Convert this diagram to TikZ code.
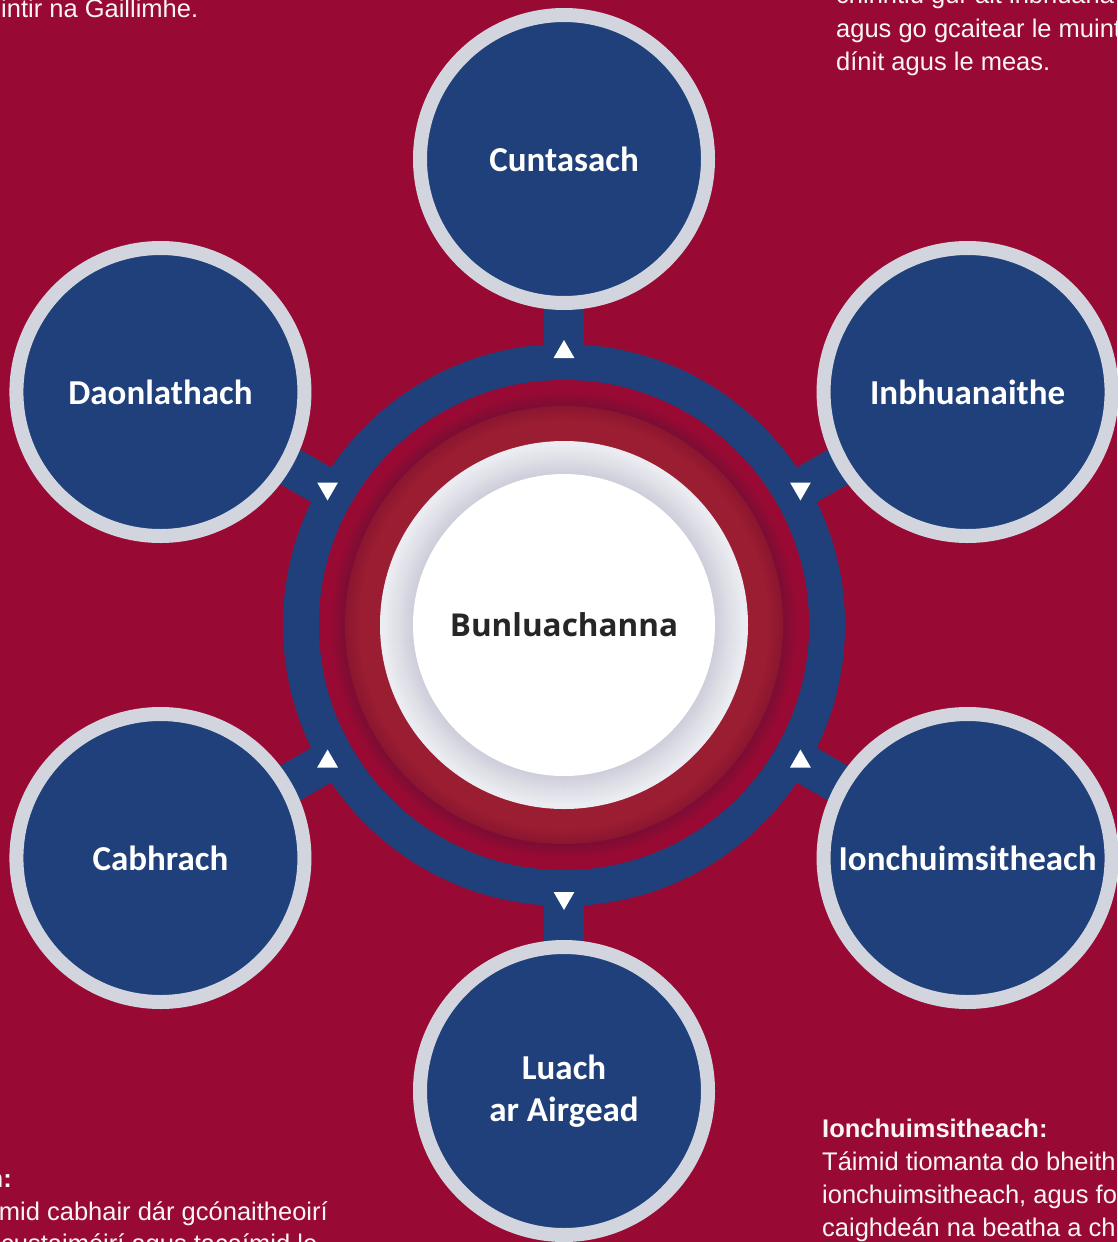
\documentclass[tikz,border=0pt]{standalone}
\usepackage{fontspec}
\setmainfont{Liberation Sans}
\newfontfamily\satfont{Carlito}
\newfontfamily\hubfont{Open Sans}
\usetikzlibrary{shapes.geometric}
\definecolor{bgred}{RGB}{152,10,51}
\definecolor{navy}{RGB}{31,64,122}
\definecolor{rimgrey}{RGB}{211,213,222}
\definecolor{banddark}{RGB}{124,13,52}
\definecolor{ringred}{RGB}{155,29,49}
\definecolor{ringreddark}{RGB}{140,22,48}
\definecolor{hubgreylight}{RGB}{235,236,241}
\definecolor{hubgreydark}{RGB}{205,206,218}
\definecolor{hubtext}{RGB}{38,38,38}
\definecolor{bodywhite}{RGB}{250,244,246}
\pgfdeclarelayer{back}
\pgfdeclarelayer{bars}
\pgfsetlayers{back,bars,main}
\begin{document}
\begin{tikzpicture}[x=1pt,y=-1pt,
  sat/.style={circle, fill=navy, draw=rimgrey, line width=14pt, minimum size=288pt,
    inner sep=0pt, text=white, align=center,
    font=\satfont\bfseries\fontsize{35}{42}\selectfont},
  bar/.style={draw=navy, line width=40pt},
  arrowtri/.style={regular polygon, regular polygon sides=3, fill=white,
    minimum size=24pt, inner sep=0pt},
  bodytext/.style={anchor=base west, inner sep=0pt, text=bodywhite,
    font=\fontsize{25.5}{33}\selectfont},
  bodyhead/.style={bodytext, font=\bfseries\fontsize{25.5}{33}\selectfont}
]
\useasboundingbox (0,0) rectangle (1117,1242);
\begin{pgfonlayer}{back}
  \fill[bgred] (0,0) rectangle (1117,1242);
\end{pgfonlayer}

% outer blue ring
\node[circle, draw=navy, line width=36pt, minimum size=526pt, inner sep=0pt] (ring) at (564,625) {};
% dark shadow band inside the ring
\foreach \r in {245,244,...,219}{
  \pgfmathtruncatemacro\t{max(0,min(100,(234-\r)*100/14))}
  \fill[banddark!\t!bgred] (564,625) circle[radius=\r];
}
% lighter red ring
\foreach \r in {219,218,...,184}{
  \pgfmathtruncatemacro\t{max(0,min(100,(\r-204)*100/15))}
  \fill[ringreddark!\t!ringred] (564,625) circle[radius=\r];
}
% grey rim of the hub
\foreach \r in {184,183,...,151}{
  \pgfmathtruncatemacro\t{max(0,min(100,(180-\r)*100/29))}
  \fill[hubgreydark!\t!hubgreylight] (564,625) circle[radius=\r];
}
% hub
\node[circle, fill=white, minimum size=302pt, inner sep=0pt, text=hubtext,
  font=\hubfont\bfseries\fontsize{31.5}{38}\selectfont] (hub) at (564,625) {Bunluachanna};

% satellites
\node[sat] (cunt) at ([shift={(-90:466)}]hub.center) {Cuntasach};
\node[sat] (daon) at ([shift={(-150:466)}]hub.center) {Daonlathach};
\node[sat] (inbh) at ([shift={(-30:466)}]hub.center) {Inbhuanaithe};
\node[sat] (cabh) at ([shift={(-210:466)}]hub.center) {Cabhrach};
\node[sat] (ionc) at ([shift={(-330:466)}]hub.center) {Ionchuimsitheach};
\node[sat] (luac) at ([shift={(-270:466)}]hub.center) {Luach\\ar Airgead};

% connector bars
\begin{pgfonlayer}{bars}
  \draw[bar] (hub.center) -- (cunt.center);
  \draw[bar] (hub.center) -- (daon.center);
  \draw[bar] (hub.center) -- (inbh.center);
  \draw[bar] (hub.center) -- (cabh.center);
  \draw[bar] (hub.center) -- (ionc.center);
  \draw[bar] (hub.center) -- (luac.center);
\end{pgfonlayer}

% outward arrowheads
\node[arrowtri, rotate=0]   (a1) at ([shift={(-90:273)}]hub.center) {};
\node[arrowtri, rotate=60]  (a2) at ([shift={(-150:273)}]hub.center) {};
\node[arrowtri, rotate=-60] (a3) at ([shift={(-30:273)}]hub.center) {};
\node[arrowtri, rotate=120] (a4) at ([shift={(-210:273)}]hub.center) {};
\node[arrowtri, rotate=240] (a5) at ([shift={(-330:273)}]hub.center) {};
\node[arrowtri, rotate=180] (a6) at ([shift={(-270:273)}]hub.center) {};

% corner texts
\node[bodytext] (tl1) at (1,17) {intir na Gaillimhe.};

\node[bodytext] (tr1) at (836,4) {chinntiú gur áit inbhuana};
\node[bodytext] (tr2) at (836,37) {agus go gcaitear le muint};
\node[bodytext] (tr3) at (836,70) {dínit agus le meas.};

\node[bodyhead, anchor=base east] (bl1) at (12,1187) {Cabhrach:};
\node[bodytext, anchor=base east] (bl2) at (328,1220) {Táimid cabhair dár gcónaitheoirí};
\node[bodytext] (bl3) at (1,1252) {custaiméirí agus tacaímid le};

\node[bodyhead] (br1) at (822,1137) {Ionchuimsitheach:};
\node[bodytext] (br2) at (822,1170) {Táimid tiomanta do bheith};
\node[bodytext] (br3) at (822,1203) {ionchuimsitheach, agus fo};
\node[bodytext] (br4) at (822,1236) {caighdeán na beatha a ch};
\end{tikzpicture}
\end{document}
